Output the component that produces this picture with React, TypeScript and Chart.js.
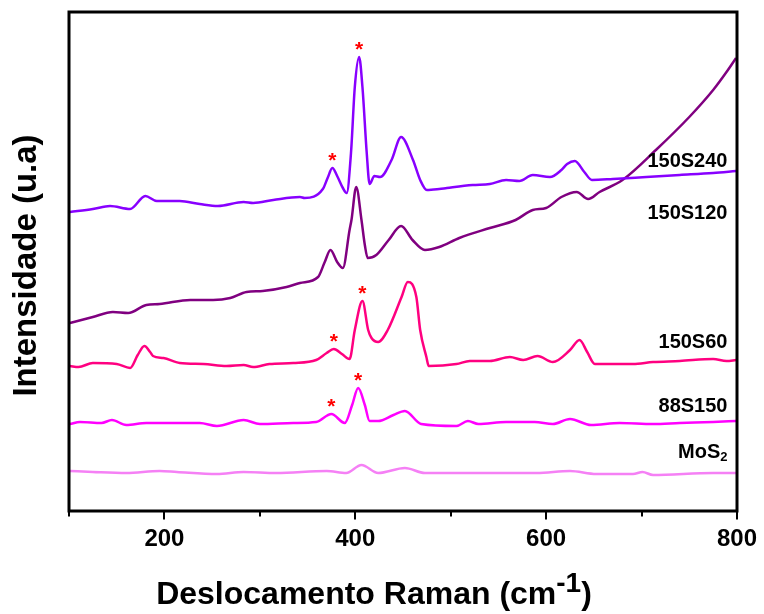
import { useEffect, useRef } from 'react';
import { Chart, registerables } from 'chart.js';

Chart.register(...registerables);

const FONT = "'Liberation Sans', Arial, Helvetica, sans-serif";

// Raman shift axis (cm-1)
const shiftMin = 100;
const shiftMax = 800;
const shiftStep = 100;
const labeledTicks = [200, 400, 600, 800];

// Stacked spectra, [shift (cm-1), intensity (a.u., offset)]
const s150S240: [number, number][] = [
  [101, 299], [125, 302], [143, 305], [164, 302], [180, 315], [192, 310], [216, 310],
  [237, 307], [256, 305], [283, 309], [293, 308], [314, 311], [342, 314], [347, 313],
  [366, 322], [371, 333], [376, 343], [381, 335], [387, 323], [391, 318], [395.5, 358],
  [399.5, 424], [404, 454], [407.5, 424], [412, 358], [415, 327], [420, 335], [426, 334],
  [438, 351], [448, 374], [460.5, 351], [468, 331], [475, 321], [488, 322], [496, 323],
  [523, 326], [541, 327], [558, 331], [572, 330], [586, 336], [604, 334], [616, 341],
  [622, 347], [630, 350], [640, 339], [648, 331], [670, 332], [705, 334], [740, 336],
  [775, 338], [799, 340],
];

const s150S120: [number, number][] = [
  [101, 188], [125, 194], [146, 199], [162, 198], [181, 206], [195, 207], [227, 211],
  [251, 211], [269, 213], [286, 219], [303, 220], [328, 224], [342, 228], [361, 234],
  [368, 249], [374, 261], [381, 249], [387, 243], [394, 281], [396, 291], [401, 324],
  [406.5, 291], [410, 266], [413, 253], [422, 256], [435, 271], [448, 285], [460, 271],
  [473, 261], [488, 264], [509, 273], [541, 283], [568, 291], [586, 301], [600, 303],
  [616, 314], [632, 319], [644, 312], [656, 319], [680, 331], [715, 361], [750, 394],
  [775, 421], [789, 439], [799, 453],
];

const s150S60: [number, number][] = [
  [101, 145], [110, 144], [125, 148], [150, 147], [164, 143], [172, 156], [179, 165],
  [185, 159], [188, 155], [199, 153], [216, 148], [241, 147], [265, 145], [283, 146],
  [293, 144], [310, 147], [335, 148], [359, 151], [370, 158], [377.5, 162], [386, 157],
  [394, 152], [399.5, 181], [407.5, 210], [413.5, 181], [417, 173], [424, 169], [434, 181],
  [448.5, 214], [455, 229], [464, 214], [468, 181], [474.5, 154], [477, 145], [506, 147],
  [520, 150], [541, 150], [562, 154], [576, 151], [591, 155], [607, 149], [625, 161],
  [635, 171], [643, 159], [651, 147], [691, 147], [712, 149], [740, 150], [775, 152],
  [789, 150], [799, 151],
];

const s88S150: [number, number][] = [
  [101, 87], [111.5, 89], [134, 88], [145, 91], [160, 86], [181, 88], [213, 88],
  [237, 88], [255, 85], [283, 91], [300, 87], [335, 88], [359, 89], [375, 97],
  [389, 88], [396.7, 106], [403, 123], [410, 106], [415, 90], [424, 90], [440, 96],
  [452, 100], [469, 87], [506, 85], [518, 90], [529, 87], [558, 89], [588, 89],
  [607, 87], [625, 92], [647, 86], [677, 88], [712, 87], [740, 88], [775, 89], [799, 90],
];

const sMoS2: [number, number][] = [
  [101, 40], [125, 39], [160, 38], [195, 40], [213, 39], [255, 37], [283, 39],
  [317, 38], [370, 40], [390.5, 38], [406.5, 46], [424, 38], [452, 43], [473, 38],
  [530, 38], [590, 38], [625, 40], [652.5, 37], [691, 37], [701, 39], [712, 36],
  [775, 38], [799, 38],
];

const seriesList = [s150S240, s150S120, s150S60, s88S150, sMoS2];
const seriesColors = ['#8800ff', '#800080', '#ff0080', '#ff00ff', '#f580f5'];
const seriesMain = ['150S240', '150S120', '150S60', '88S150', 'MoS'];
const seriesSub = ['', '', '', '', '2'];
// label baseline, in the same intensity units as the spectra
const labelShift = 790;
const labelLevel = [344, 292, 163, 99, 53];

// peaks flagged with an asterisk
const starredPeaks: { series: [number, number][]; at: number[] }[] = [
  { series: s150S240, at: [376, 404] },
  { series: s150S60, at: [377.5, 407.5] },
  { series: s88S150, at: [375, 403] },
];

const xTitle = 'Deslocamento Raman (cm';
const xTitleSup = '-1';
const yTitle = 'Intensidade (u.a)';

const decorPlugin = {
  id: 'decor',
  afterDraw(chart: any) {
    const { ctx, chartArea: a } = chart;
    const x = chart.scales.x;
    const y = chart.scales.y;
    ctx.save();

    // asterisks over the marked peaks
    ctx.fillStyle = '#ff0000';
    ctx.font = `bold 21px ${FONT}`;
    ctx.textAlign = 'center';
    ctx.textBaseline = 'alphabetic';
    starredPeaks.forEach(({ series, at }) => {
      at.forEach((shift) => {
        const pt = series.find((p) => p[0] === shift);
        if (!pt) return;
        ctx.fillText('*', x.getPixelForValue(pt[0]), y.getPixelForValue(pt[1]) - 1);
      });
    });

    // sample labels
    ctx.fillStyle = '#000';
    ctx.textAlign = 'right';
    const lx = x.getPixelForValue(labelShift);
    seriesMain.forEach((name, i) => {
      const ly = y.getPixelForValue(labelLevel[i]);
      let rx = lx;
      if (seriesSub[i]) {
        ctx.font = `bold 13px ${FONT}`;
        ctx.fillText(seriesSub[i], rx, ly + 3);
        rx -= ctx.measureText(seriesSub[i]).width;
      }
      ctx.font = `bold 20px ${FONT}`;
      ctx.fillText(name, rx, ly);
    });

    // frame
    ctx.strokeStyle = '#000';
    ctx.lineWidth = 3;
    ctx.strokeRect(a.left, a.top, a.right - a.left, a.bottom - a.top);

    // x ticks: long at labelled values, short in between
    ctx.lineWidth = 2;
    x.ticks.forEach((t: any) => {
      const px = Math.round(x.getPixelForValue(t.value));
      const len = labeledTicks.includes(t.value) ? 7 : 4;
      ctx.beginPath();
      ctx.moveTo(px, a.bottom + 1);
      ctx.lineTo(px, a.bottom + 1.5 + len);
      ctx.stroke();
    });

    // x title with superscript
    const mainFont = `bold 32px ${FONT}`;
    const supFont = `bold 28px ${FONT}`;
    ctx.font = mainFont;
    const w1 = ctx.measureText(xTitle).width;
    const w3 = ctx.measureText(')').width;
    ctx.font = supFont;
    const w2 = ctx.measureText(xTitleSup).width;
    let tx = 374 - (w1 + w2 + w3) / 2;
    const ty = 604;
    ctx.textAlign = 'left';
    ctx.font = mainFont;
    ctx.fillText(xTitle, tx, ty);
    tx += w1;
    ctx.font = supFont;
    ctx.fillText(xTitleSup, tx, ty - 12);
    tx += w2;
    ctx.font = mainFont;
    ctx.fillText(')', tx, ty);

    // y title
    ctx.translate(36, (a.top + a.bottom) / 2 + 4);
    ctx.rotate(-Math.PI / 2);
    ctx.textAlign = 'center';
    ctx.font = `bold 33px ${FONT}`;
    ctx.fillText(yTitle, 0, 0);

    ctx.restore();
  },
};

export default function App() {
  const ref = useRef<HTMLCanvasElement>(null);

  useEffect(() => {
    if (!ref.current) return;
    const chart = new Chart(ref.current, {
      type: 'line',
      data: {
        datasets: seriesList.map((s, i) => ({
          label: seriesMain[i] + seriesSub[i],
          data: s.map(([sx, sy]) => ({ x: sx, y: sy })),
          borderColor: seriesColors[i],
          borderWidth: 2.5,
          pointRadius: 0,
          fill: false,
          cubicInterpolationMode: 'monotone' as const,
        })),
      },
      options: {
        animation: false,
        responsive: false,
        devicePixelRatio: 1,
        layout: { padding: { left: 69, right: 27, top: 12, bottom: 0 } },
        plugins: {
          legend: { display: false },
          tooltip: { enabled: false },
        },
        scales: {
          x: {
            type: 'linear',
            min: shiftMin,
            max: shiftMax,
            grid: { display: false, drawTicks: false },
            border: { display: false },
            ticks: {
              stepSize: shiftStep,
              padding: 14,
              color: '#000',
              font: { family: FONT, size: 24, weight: 'bold' },
              callback: (v: any) => (labeledTicks.includes(Number(v)) ? String(v) : ''),
            },
            afterFit: (scale: any) => {
              scale.height = 103;
              scale.paddingLeft = 0;
              scale.paddingRight = 0;
            },
          },
          y: {
            display: false,
            min: 0,
            max: 499,
          },
        },
      },
      plugins: [decorPlugin],
    } as any);
    return () => chart.destroy();
  }, []);

  return (
    <div style={{ position: 'absolute', left: 0, top: 0, width: 764, height: 614, background: '#fff' }}>
      <canvas ref={ref} width={764} height={614} style={{ display: 'block' }} />
    </div>
  );
}
